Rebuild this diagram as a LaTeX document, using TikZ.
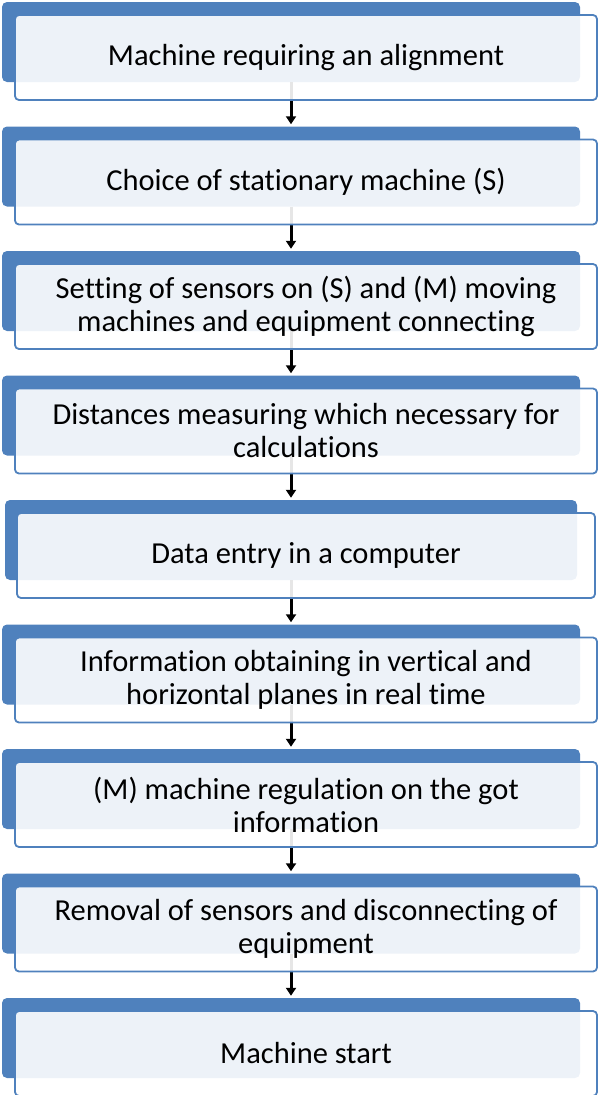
\documentclass[tikz,border=0pt]{standalone}
\usepackage{fontspec}
\setmainfont{Carlito}[RawFeature={-liga;-clig;-calt;-dlig}]
\usetikzlibrary{arrows.meta}
\definecolor{stepblue}{HTML}{4F81BD}
\tikzset{
  backbox/.style={fill=stepblue, rounded corners=5pt, minimum width=578pt, minimum height=80pt, inner sep=0pt},
  frontbox/.style={draw=stepblue, line width=1.8pt, fill=white, fill opacity=0.9, text opacity=1, rounded corners=4pt, minimum width=582pt, minimum height=85pt, inner sep=0pt, align=center, font=\fontsize{30.5}{33}\selectfont},
  steparrow/.style={-{Triangle[length=8pt,width=10pt]}, line width=3pt, shorten >=2pt}
}
\begin{document}
\begin{tikzpicture}[x=1pt, y=-1pt]
    \useasboundingbox (0,0) rectangle (599,1095);
    % dark back boxes
    \node[backbox] (b1) at (291,42) {};
    \node[backbox] (b2) at (291,166.5) {};
    \node[backbox] (b3) at (291,291) {};
    \node[backbox] (b4) at (291,415.5) {};
    \node[backbox, minimum width=572pt] (b5) at (291,540) {};
    \node[backbox] (b6) at (291,664.5) {};
    \node[backbox] (b7) at (291,789) {};
    \node[backbox] (b8) at (291,913.5) {};
    \node[backbox] (b9) at (291,1038) {};
    % arrows
    \draw[steparrow] (b1) -- (b2);
    \draw[steparrow] (b2) -- (b3);
    \draw[steparrow] (b3) -- (b4);
    \draw[steparrow] (b4) -- (b5);
    \draw[steparrow] (b5) -- (b6);
    \draw[steparrow] (b6) -- (b7);
    \draw[steparrow] (b7) -- (b8);
    \draw[steparrow] (b8) -- (b9);
    % light front boxes with the texts
    \node[frontbox] (f1) at (306,57.5) {Machine requiring an alignment};
    \node[frontbox] (f2) at (306,182) {Choice of stationary machine (S)};
    \node[frontbox] (f3) at (306,306.5) {Setting of sensors on (S) and (M) moving\\machines and equipment connecting};
    \node[frontbox] (f4) at (306,431) {Distances measuring which necessary for\\calculations};
    \node[frontbox, minimum width=578pt] (f5) at (306,555.5) {Data entry in a computer};
    \node[frontbox] (f6) at (306,680) {Information obtaining in vertical and\\horizontal planes in real time};
    \node[frontbox] (f7) at (306,804.5) {(M) machine regulation on the got\\information};
    \node[frontbox] (f8) at (306,929) {Removal of sensors and disconnecting of\\equipment};
    \node[frontbox] (f9) at (306,1053.5) {Machine start};
\end{tikzpicture}
\end{document}
